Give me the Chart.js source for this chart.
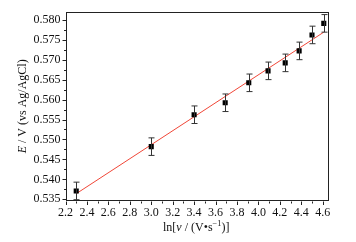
<!DOCTYPE html>
<html>
<head>
<meta charset="utf-8">
<script src="https://cdn.jsdelivr.net/npm/chart.js@4/dist/chart.umd.min.js"></script>
<style>
    html, body { margin: 0; padding: 0; background: #fff; }
    #wrap { width: 356px; height: 242px; }
</style>
</head>
<body>
<div id="wrap"><canvas id="myChart" width="356" height="242"></canvas></div>
<script>
// measured points: ln(scan rate) vs peak potential
const lnV = [2.30, 3.00, 3.40, 3.69, 3.91, 4.09, 4.25, 4.38, 4.50, 4.61];
const potential = [0.5371, 0.5482, 0.5562, 0.5592, 0.5642, 0.5672, 0.5692, 0.5722, 0.5762, 0.5791];
const errBar = [0.0022, 0.0022, 0.0022, 0.0022, 0.0022, 0.0022, 0.0022, 0.0022, 0.0022, 0.0022];

// linear fit line ends
const fitX = [2.30, 4.61];
const fitY = [0.5364, 0.5769];

const xTicks = [2.2, 2.4, 2.6, 2.8, 3.0, 3.2, 3.4, 3.6, 3.8, 4.0, 4.2, 4.4, 4.6];
const yTicks = [0.535, 0.540, 0.545, 0.550, 0.555, 0.560, 0.565, 0.570, 0.575, 0.580];

const FONT = "'Liberation Serif', 'DejaVu Serif', serif";
const AXIS_COLOR = "#222";

document.addEventListener("DOMContentLoaded", function () {
    const canvas = document.getElementById("myChart");
    const ctx = canvas.getContext("2d");

    // draw pieces of text, some italic / superscript
    function drawParts(c, parts, size) {
        let total = 0;
        parts.forEach((p) => {
            const s = p.sup ? size * 0.7 : size;
            c.font = (p.italic ? "italic " : "") + s + "px " + FONT;
            p.w = c.measureText(p.t).width;
            total += p.w;
        });
        let x = -total / 2;
        parts.forEach((p) => {
            const s = p.sup ? size * 0.7 : size;
            c.font = (p.italic ? "italic " : "") + s + "px " + FONT;
            c.fillText(p.t, x, p.sup ? -size * 0.35 : 0);
            x += p.w;
        });
    }

    const framePlugin = {
        id: "frame",
        afterDatasetsDraw(chart) {
            const c = chart.ctx;
            const area = chart.chartArea;
            const xs = chart.scales.x;
            const ys = chart.scales.y;
            c.save();

            // error bars
            c.strokeStyle = "#333";
            c.lineWidth = 1;
            for (let i = 0; i < lnV.length; i++) {
                const px = Math.round(xs.getPixelForValue(lnV[i])) + 0.5;
                const top = ys.getPixelForValue(potential[i] + errBar[i]);
                const bot = ys.getPixelForValue(potential[i] - errBar[i]);
                c.beginPath();
                c.moveTo(px, top);
                c.lineTo(px, bot);
                c.moveTo(px - 3, top);
                c.lineTo(px + 3, top);
                c.moveTo(px - 3, bot);
                c.lineTo(px + 3, bot);
                c.stroke();
            }

            // frame
            c.strokeStyle = AXIS_COLOR;
            c.strokeRect(Math.round(area.left) + 0.5, Math.round(area.top) + 0.5,
                Math.round(area.right - area.left), Math.round(area.bottom - area.top));

            // x ticks (major + minor), outward
            c.beginPath();
            for (let v = 2.2; v <= 4.62; v += 0.1) {
                const px = Math.round(xs.getPixelForValue(v)) + 0.5;
                const major = Math.abs(Math.round(v * 10) % 2) === 0;
                c.moveTo(px, Math.round(area.bottom) + 0.5);
                c.lineTo(px, Math.round(area.bottom) + (major ? 4 : 2.5));
            }
            // y ticks
            for (let v = 0.535; v <= 0.5815; v += 0.0025) {
                const py = Math.round(ys.getPixelForValue(v)) + 0.5;
                const major = Math.round(v * 10000) % 50 === 0;
                c.moveTo(Math.round(area.left) + 0.5, py);
                c.lineTo(Math.round(area.left) - (major ? 3.5 : 2), py);
            }
            c.stroke();

            // axis titles
            c.fillStyle = "#111";
            c.textBaseline = "middle";
            c.textAlign = "left";
            c.save();
            c.translate(23, (area.top + area.bottom) / 2);
            c.rotate(-Math.PI / 2);
            drawParts(c, [
                {t: "E", italic: true},
                {t: " / V (vs Ag/AgCl)"}
            ], 12);
            c.restore();

            c.save();
            c.translate((area.left + area.right) / 2, 228);
            drawParts(c, [
                {t: "ln["},
                {t: "v", italic: true},
                {t: " / (V\u2022s"},
                {t: "\u22121", sup: true},
                {t: ")]"}
            ], 12);
            c.restore();

            c.restore();
        }
    };

    const chart = new Chart(ctx, {
        type: "scatter",
        data: {
            datasets: [
                {
                    type: "line",
                    label: "fit",
                    data: fitX.map((x, i) => ({x: x, y: fitY[i]})),
                    borderColor: "rgb(240, 70, 55)",
                    borderWidth: 1,
                    pointRadius: 0,
                    fill: false,
                    order: 2,
                },
                {
                    label: "E",
                    data: lnV.map((x, i) => ({x: x, y: potential[i]})),
                    pointStyle: "rect",
                    pointRadius: 3.6,
                    backgroundColor: "#000",
                    borderColor: "#000",
                    borderWidth: 0,
                    order: 1,
                },
            ],
        },
        options: {
            responsive: false,
            animation: false,
            devicePixelRatio: 1,
            layout: {padding: {top: 12, right: 29, left: 0, bottom: 0}},
            plugins: {
                legend: {display: false},
                tooltip: {enabled: false},
            },
            scales: {
                x: {
                    type: "linear",
                    min: 2.2,
                    max: 4.64,
                    grid: {display: false, drawTicks: false},
                    border: {display: false},
                    afterBuildTicks: (scale) => {
                        scale.ticks = xTicks.map((v) => ({value: v}));
                    },
                    afterFit: (scale) => {
                        scale.height = 41.5;
                    },
                    ticks: {
                        color: "#111",
                        padding: 5,
                        maxRotation: 0,
                        autoSkip: false,
                        font: {family: FONT, size: 12},
                        callback: (v) => Number(v).toFixed(1),
                    },
                },
                y: {
                    type: "linear",
                    min: 0.5347,
                    max: 0.5819,
                    grid: {display: false, drawTicks: false},
                    border: {display: false},
                    afterBuildTicks: (scale) => {
                        scale.ticks = yTicks.map((v) => ({value: v}));
                    },
                    afterFit: (scale) => {
                        scale.width = 65.5;
                    },
                    ticks: {
                        color: "#111",
                        padding: 5,
                        autoSkip: false,
                        font: {family: FONT, size: 12},
                        callback: (v) => Number(v).toFixed(3),
                    },
                },
            },
        },
        plugins: [framePlugin],
    });
});
</script>
</body>
</html>
